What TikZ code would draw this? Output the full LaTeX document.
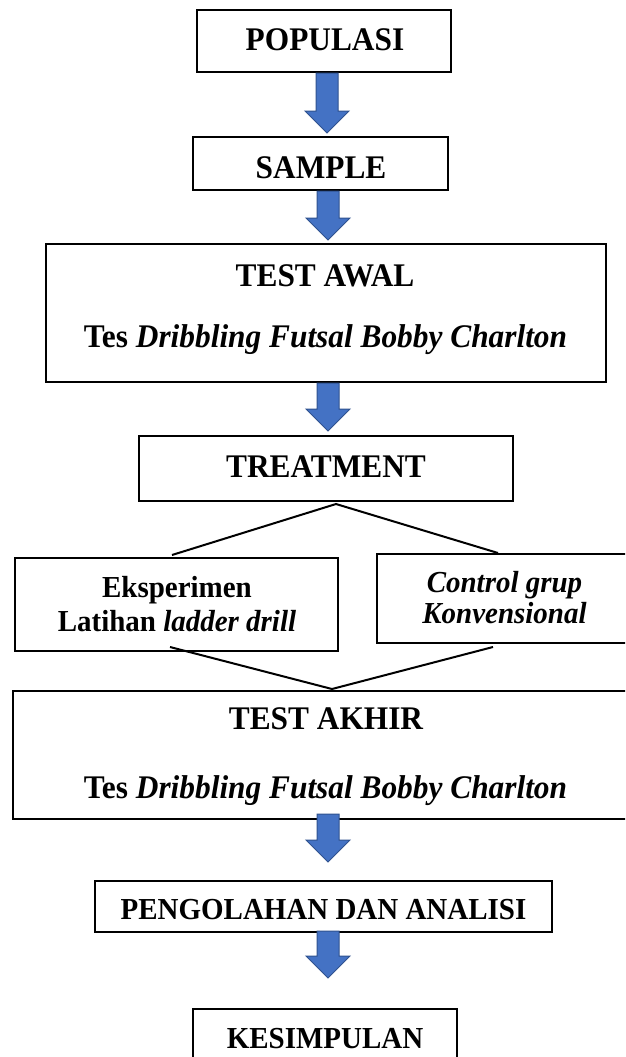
\documentclass[tikz,border=0pt]{standalone}
\usepackage{fontspec}
\setmainfont[FakeStretch=0.95]{Liberation Serif}
\usetikzlibrary{calc}
\definecolor{arrowblue}{HTML}{4472C4}
\definecolor{arrowedge}{HTML}{2F528F}
\tikzset{
  box/.style={draw=black, line width=2pt, rectangle, inner sep=0pt, fill=none},
  txtbig/.style={anchor=base, inner sep=0pt, font=\fontsize{33}{38}\selectfont\bfseries},
  txtsmall/.style={anchor=base, inner sep=0pt, font=\fontsize{30.5}{35}\selectfont\bfseries},
  link/.style={draw=black, line width=2pt},
  arrowsty/.style={fill=arrowblue, draw=arrowedge, line width=1pt, line join=miter}
}
% #1 from node, #2 to node, #3 x centre, #4 gap above target, #5 overlap into source
\newcommand\blockarr[5]{%
  \path[arrowsty] let \p1=(#1.south), \p2=(#2.north) in
    (#3pt-11pt,\y1+#5pt) -- (#3pt+11pt,\y1+#5pt) -- (#3pt+11pt,\y2+#4pt+22pt)
    -- (#3pt+22pt,\y2+#4pt+22pt) -- (#3pt,\y2+#4pt) -- (#3pt-22pt,\y2+#4pt+22pt)
    -- (#3pt-11pt,\y2+#4pt+22pt) -- cycle;}
\begin{document}
\begin{tikzpicture}[x=1pt,y=-1pt]
\useasboundingbox (0,0) rectangle (625,1057);
\clip (0,0) rectangle (625,1057);
\fill[white] (0,0) rectangle (625,1057);

% boxes
\node[box, minimum width=254pt, minimum height=62pt] (pop) at (324,41) {};
\node[box, minimum width=255pt, minimum height=53pt] (sam) at (320.5,163.5) {};
\node[box, minimum width=560pt, minimum height=138pt] (awal) at (326,313) {};
\node[box, minimum width=374pt, minimum height=65pt] (treat) at (326,468.5) {};
\node[box, minimum width=323pt, minimum height=93pt] (eks) at (176.5,604.5) {};
\node[box, minimum width=254pt, minimum height=89pt] (ctrl) at (504,598.5) {};
\node[box, minimum width=625pt, minimum height=128pt] (akhir) at (325.5,755) {};
\node[box, minimum width=457pt, minimum height=51pt] (peng) at (323.5,906.5) {};
\node[box, minimum width=264pt, minimum height=70pt] (kes) at (325,1044) {};

% texts
\node[txtbig] (tpop) at (325,51) {POPULASI};
\node[txtbig] (tsam) at (321,178) {SAMPLE};
\node[txtbig] (tawal1) at (325,286) {TEST AWAL};
\node[txtbig] (tawal2) at (325.5,347) {Tes \textit{Dribbling Futsal Bobby Charlton}};
\node[txtbig] (ttreat) at (326,477) {TREATMENT};
\node[txtsmall] (teks1) at (177,597) {Eksperimen};
\node[txtsmall] (teks2) at (177,631) {Latihan \textit{ladder drill}};
\node[txtsmall] (tctrl1) at (504.5,592) {\itshape Control grup};
\node[txtsmall] (tctrl2) at (504.5,623) {\itshape Konvensional};
\node[txtbig] (takhir1) at (326,729) {TEST AKHIR};
\node[txtbig] (takhir2) at (325.5,798) {Tes \textit{Dribbling Futsal Bobby Charlton}};
\node[txtsmall] (tpeng) at (323.5,919) {PENGOLAHAN DAN ANALISI};
\node[txtsmall] (tkes) at (325,1048) {KESIMPULAN};

% branch connectors
\draw[link] ([xshift=-4.5pt,yshift=2pt]eks.north) -- ([xshift=10pt,yshift=-2pt]treat.south)
            -- ([xshift=-6pt,yshift=0pt]ctrl.north);
\draw[link] ([xshift=-6.5pt,yshift=5pt]eks.south) -- ([xshift=6.5pt,yshift=1pt]akhir.north)
            -- ([xshift=-11pt,yshift=-3pt]ctrl.south);

% block arrows
\blockarr{pop}{sam}{327}{3}{0}
\blockarr{sam}{awal}{328}{3}{0}
\blockarr{awal}{treat}{328}{4}{0}
\blockarr{akhir}{peng}{328}{18}{6}
\blockarr{peng}{kes}{328}{30}{2}
\end{tikzpicture}
\end{document}
